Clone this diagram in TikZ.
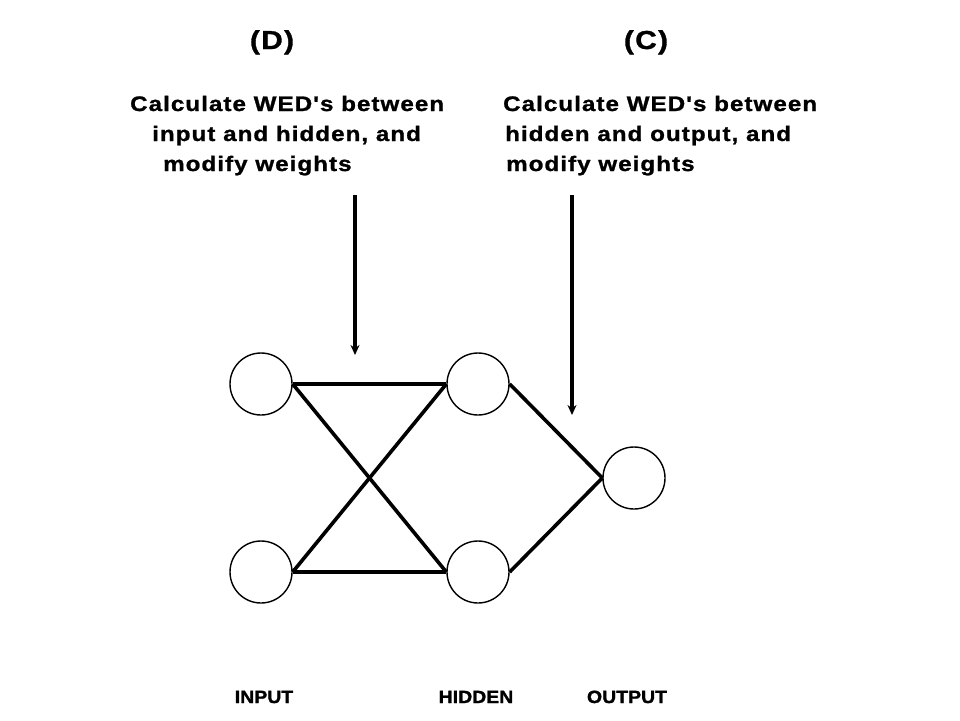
\documentclass[tikz,border=0pt]{standalone}
\usepackage{xcolor}
\usepackage{fontspec}
\usetikzlibrary{arrows.meta}
\newfontfamily\wedfont{Liberation Sans}[FakeStretch=1.15,LetterSpace=5,BoldFeatures={FakeBold=1.2}]
\newfontfamily\capafont{Liberation Sans}[FakeStretch=1.1,BoldFeatures={FakeBold=1.5}]

\tikzset{
    neurona/.style={draw, circle, line width=1.4pt, minimum size=62pt, inner sep=0pt},
    peso/.style={line width=3.6pt},
    flecha/.style={line width=3.4pt, -{Stealth[length=10pt,width=9pt]}},
    texto/.style={anchor=base west, inner sep=0pt, font=\wedfont\bfseries\fontsize{21}{24}\selectfont},
    titulo/.style={anchor=base, inner sep=0pt, font=\wedfont\bfseries\fontsize{26}{30}\selectfont},
    capa/.style={anchor=base, inner sep=0pt, font=\capafont\bfseries\fontsize{17.7}{20}\selectfont}
}

\begin{document}
\begin{tikzpicture}[x=1pt, y=-1pt]
        % Paso 1: Fija el marco de la figura
        \useasboundingbox (0,0) rectangle (960,720);

        % Paso 2: Define las neuronas de cada capa
        \node[neurona] (I1) at (261,384) {};
        \node[neurona] (I2) at (261,572) {};
        \node[neurona] (H1) at (478,384) {};
        \node[neurona] (H2) at (478,572) {};
        \node[neurona] (O)  at (634,478) {};

        % Paso 3: Dibuja las conexiones
        \draw[peso] (I1.east) -- (H1.west);
        \draw[peso] (I1.east) -- (H2.west);
        \draw[peso] (I2.east) -- (H1.west);
        \draw[peso] (I2.east) -- (H2.west);
        \draw[peso] (H1.east) -- (O.west);
        \draw[peso] (H2.east) -- (O.west);

        % Paso 4: Titulos de los pasos
        \node[titulo] (D) at (272,49) {(D)};
        \node[titulo] (C) at (646,49) {(C)};

        % Paso 5: Textos de cada paso
        \node[texto] (D1) at (130,111) {Calculate WED's between};
        \node[texto] (D2) at (152,141) {input and hidden, and};
        \node[texto] (D3) at (163,171) {modify weights};
        \node[texto] (C1) at (503,111) {Calculate WED's between};
        \node[texto] (C2) at (505,141) {hidden and output, and};
        \node[texto] (C3) at (506,171) {modify weights};

        % Paso 6: Flechas hacia las conexiones
        \coordinate (DA) at (355,195);
        \coordinate (DB) at (355,355);
        \coordinate (CA) at (572,195);
        \coordinate (CB) at (572,415);
        \draw[flecha] (DA) -- (DB);
        \draw[flecha] (CA) -- (CB);

        % Paso 7: Nombres de las capas
        \node[capa] (IN)  at (264,703) {INPUT};
        \node[capa] (HID) at (476,703) {HIDDEN};
        \node[capa] (OUT) at (627,703) {OUTPUT};
    \end{tikzpicture}
\end{document}
